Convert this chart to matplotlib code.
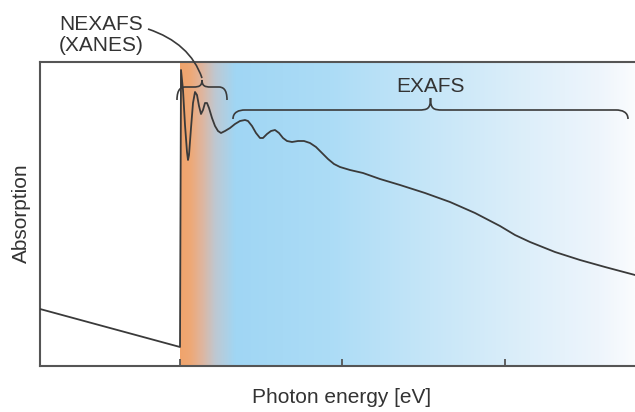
import numpy as np
import matplotlib.pyplot as plt
from matplotlib.path import Path
from matplotlib.patches import PathPatch

plt.rcParams['font.family'] = ['Liberation Sans', 'DejaVu Sans']

# absorption spectrum (arbitrary units)
energy = [0, 140, 141, 143, 145, 147, 148, 149, 151, 153, 155, 157, 159, 161,
          163, 165, 167, 169, 172, 175, 178, 181, 185, 190, 195, 200, 205, 208,
          212, 216, 220, 223, 227, 231, 235, 239, 243, 247, 252, 258, 264, 270,
          276, 282, 288, 294, 300, 310, 323, 340, 360, 385, 410, 435, 460, 475,
          490, 515, 540, 565, 595]
absorption = [57, 19, 296, 276, 241, 214, 206, 211, 238, 263, 274, 271, 260, 252,
              256, 263, 263, 258, 248, 240, 235, 233, 235, 238, 242, 245, 246, 245,
              240, 233, 228, 228, 232, 235, 236, 233, 228, 225, 224, 225, 225, 223,
              219, 213, 207, 202, 199, 196, 193, 187, 181, 173, 164, 153, 140, 131,
              124, 114, 106, 99, 91]

edge = 140
tick_pos = [140, 302, 465]
nexafs_span = (137, 187)
exafs_span = (193, 588)

# background colour stops (x, rgb)
grad_x = [140, 150, 162, 175, 195, 290, 390, 490, 560, 595]
grad_rgb = [(240, 164, 108), (238, 168, 118), (222, 182, 160), (190, 200, 210),
            (160, 214, 244), (172, 220, 246), (198, 230, 248), (222, 239, 250),
            (238, 245, 252), (250, 252, 254)]


def brace(ax, x0, x1, y, h_end, h_tip):
    xm = (x0 + x1) / 2
    d = min(12, (x1 - x0) / 6)
    verts = [(x0, y - h_end),
             (x0, y - 2), (x0 + d / 2, y), (x0 + d, y),
             (xm - d, y),
             (xm - 3, y), (xm, y + 1), (xm, y + h_tip),
             (xm, y + 1), (xm + 3, y), (xm + d, y),
             (x1 - d, y),
             (x1 - d / 2, y), (x1, y - 2), (x1, y - h_end)]
    codes = [Path.MOVETO,
             Path.CURVE4, Path.CURVE4, Path.CURVE4,
             Path.LINETO,
             Path.CURVE4, Path.CURVE4, Path.CURVE4,
             Path.CURVE4, Path.CURVE4, Path.CURVE4,
             Path.LINETO,
             Path.CURVE4, Path.CURVE4, Path.CURVE4]
    ax.add_patch(PathPatch(Path(verts, codes), fill=False, ec='#3a3a3a',
                           lw=1.2, zorder=4, clip_on=False))


fig = plt.figure(figsize=(6.35, 4.12), dpi=100)
ax = fig.add_axes([40 / 635, 46 / 412, 595 / 635, 304 / 412])

xs = np.linspace(edge, 595, 400)
cols = np.stack([np.interp(xs, grad_x, [c[i] for c in grad_rgb]) for i in range(3)], axis=-1) / 255
ax.imshow(cols[np.newaxis, :, :], extent=[edge, 595, 0, 304], aspect='auto', zorder=0)

ax.plot(energy, absorption, color='#3a3a3a', lw=1.3, zorder=3)

brace(ax, nexafs_span[0], nexafs_span[1], 279, 13, 7)
brace(ax, exafs_span[0], exafs_span[1], 256, 9, 12)

# leader from NEXAFS label to its brace
lead = Path([(108, 337), (150, 323), (162, 288)], [Path.MOVETO, Path.CURVE3, Path.CURVE3])
ax.add_patch(PathPatch(lead, fill=False, ec='#3a3a3a', lw=1.2, zorder=4, clip_on=False))

ax.set_xlim(0, 595)
ax.set_ylim(0, 304)
ax.set_xticks(tick_pos)
ax.set_xticklabels([])
ax.set_yticks([])
ax.tick_params(axis='x', direction='in', length=5, width=1.3, color='#555555')
for s in ['left', 'bottom', 'top']:
    ax.spines[s].set_color('#555555')
    ax.spines[s].set_linewidth(1.5)
ax.spines['right'].set_visible(False)

ax.text(390, 274, 'EXAFS', ha='center', va='baseline', fontsize=15, color='#333333')
fig.text(59 / 635, 1 - 51 / 412, 'NEXAFS\n(XANES)', ha='left', va='baseline',
         fontsize=15, color='#333333', linespacing=1.1)
fig.text(342 / 635, 1 - 403 / 412, 'Photon energy [eV]', ha='center', va='baseline',
         fontsize=15, color='#333333')
fig.text(21 / 635, 1 - 213 / 412, 'Absorption', ha='center', va='center',
         rotation=90, fontsize=15, color='#333333')

plt.savefig('out.png', dpi=100)
